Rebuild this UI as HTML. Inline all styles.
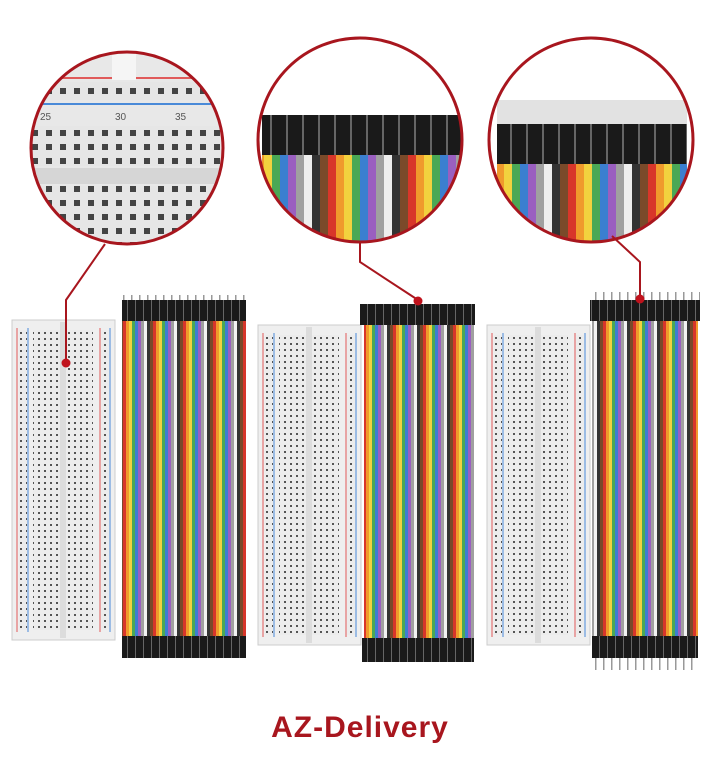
<!DOCTYPE html>
<html><head><meta charset="utf-8"><style>
html,body{margin:0;padding:0;background:#fff;width:720px;height:768px;overflow:hidden}
</style></head><body>
<svg width="720" height="768" viewBox="0 0 720 768" xmlns="http://www.w3.org/2000/svg">
<defs>
  <pattern id="rain" width="30" height="10" patternUnits="userSpaceOnUse">
    <rect x="0" width="3" height="10" fill="#7a4a2a"/>
    <rect x="3" width="3" height="10" fill="#d8362a"/>
    <rect x="6" width="3" height="10" fill="#f09a2c"/>
    <rect x="9" width="3" height="10" fill="#f2d23e"/>
    <rect x="12" width="3" height="10" fill="#4aa855"/>
    <rect x="15" width="3" height="10" fill="#3b7fd0"/>
    <rect x="18" width="3" height="10" fill="#9a5fc0"/>
    <rect x="21" width="3" height="10" fill="#a0a0a0"/>
    <rect x="24" width="3" height="10" fill="#f2f2f2"/>
    <rect x="27" width="3" height="10" fill="#333"/>
  </pattern>
  <pattern id="rainBig" width="80" height="10" patternUnits="userSpaceOnUse">
    <rect x="0" width="8" height="10" fill="#7a4a2a"/>
    <rect x="8" width="8" height="10" fill="#d8362a"/>
    <rect x="16" width="8" height="10" fill="#f09a2c"/>
    <rect x="24" width="8" height="10" fill="#f2d23e"/>
    <rect x="32" width="8" height="10" fill="#4aa855"/>
    <rect x="40" width="8" height="10" fill="#3b7fd0"/>
    <rect x="48" width="8" height="10" fill="#9a5fc0"/>
    <rect x="56" width="8" height="10" fill="#a0a0a0"/>
    <rect x="64" width="8" height="10" fill="#eee"/>
    <rect x="72" width="8" height="10" fill="#333"/>
  </pattern>
  <pattern id="holes" width="6" height="6" patternUnits="userSpaceOnUse">
    <rect width="6" height="6" fill="#ececec"/>
    <rect x="2" y="2" width="2" height="2" fill="#555"/>
  </pattern>
  <pattern id="holesBig" width="14" height="14" patternUnits="userSpaceOnUse">
    <rect width="14" height="14" fill="#e6e6e6"/>
    <rect x="4" y="4" width="6" height="6" fill="#444"/>
  </pattern>
  <pattern id="hdr" width="8" height="10" patternUnits="userSpaceOnUse">
    <rect width="7" height="10" fill="#1a1a1a"/>
    <rect x="7" width="1" height="10" fill="#666"/>
  </pattern>
  <pattern id="pins" width="8" height="10" patternUnits="userSpaceOnUse">
    <rect x="3" width="1.5" height="10" fill="#999"/>
  </pattern>
  <pattern id="hdrBig" width="16" height="10" patternUnits="userSpaceOnUse">
    <rect width="14" height="10" fill="#1a1a1a"/>
    <rect x="14" width="2" height="10" fill="#666"/>
  </pattern>
  <clipPath id="c1"><circle cx="127" cy="148" r="96"/></clipPath>
  <clipPath id="c2"><circle cx="360" cy="140" r="102"/></clipPath>
  <clipPath id="c3"><circle cx="591" cy="140" r="102"/></clipPath>
</defs>

<g>
  <g id="bb">
    <rect x="12" y="320" width="103" height="320" fill="#efefef" stroke="#ccc"/>
    <line x1="17" y1="328" x2="17" y2="632" stroke="#e05a5a" stroke-width="1"/>
    <line x1="28" y1="328" x2="28" y2="632" stroke="#4a8ad8" stroke-width="1"/>
    <line x1="100" y1="328" x2="100" y2="632" stroke="#e05a5a" stroke-width="1"/>
    <line x1="110" y1="328" x2="110" y2="632" stroke="#4a8ad8" stroke-width="1"/>
    <rect x="19" y="330" width="8" height="300" fill="url(#holes)"/>
    <rect x="101" y="330" width="8" height="300" fill="url(#holes)"/>
    <rect x="33" y="330" width="27" height="300" fill="url(#holes)"/>
    <rect x="66" y="330" width="27" height="300" fill="url(#holes)"/>
    <rect x="60" y="322" width="6" height="316" fill="#dcdcdc"/>
  </g>
  <use href="#bb" x="246" y="5"/>
  <use href="#bb" x="475" y="5"/>
</g>

<!-- wires 1 -->
<rect x="122" y="318" width="124" height="322" fill="url(#rain)"/>
<rect x="122" y="295" width="124" height="8" fill="url(#pins)"/>
<rect x="122" y="300" width="124" height="21" fill="url(#hdr)"/>
<rect x="122" y="636" width="124" height="22" fill="url(#hdr)"/>
<!-- wires 2 -->
<rect x="364" y="322" width="110" height="320" fill="url(#rain)"/>
<rect x="360" y="304" width="115" height="21" fill="url(#hdr)"/>
<rect x="362" y="638" width="112" height="24" fill="url(#hdr)"/>
<!-- wires 3 -->
<rect x="592" y="318" width="106" height="322" fill="url(#rain)"/>
<rect x="590" y="292" width="110" height="10" fill="url(#pins)"/>
<rect x="590" y="300" width="110" height="21" fill="url(#hdr)"/>
<rect x="592" y="636" width="106" height="22" fill="url(#hdr)"/>
<rect x="594" y="658" width="102" height="12" fill="url(#pins)"/>

<!-- circle 1 -->
<g clip-path="url(#c1)">
  <rect x="30" y="50" width="200" height="200" fill="#e8e8e8"/>
  <line x1="30" y1="78" x2="230" y2="78" stroke="#e05a5a" stroke-width="2"/>
  <line x1="30" y1="104" x2="230" y2="104" stroke="#4a8ad8" stroke-width="2"/>
  <rect x="30" y="82" width="200" height="18" fill="url(#holesBig)"/>
  <text x="40" y="120" font-family="Liberation Sans, sans-serif" font-size="10" fill="#555">25</text>
  <text x="115" y="120" font-family="Liberation Sans, sans-serif" font-size="10" fill="#555">30</text>
  <text x="175" y="120" font-family="Liberation Sans, sans-serif" font-size="10" fill="#555">35</text>
  <rect x="30" y="126" width="200" height="40" fill="url(#holesBig)"/>
  <rect x="30" y="168" width="200" height="16" fill="#d6d6d6"/>
  <rect x="30" y="186" width="200" height="64" fill="url(#holesBig)"/>
  <rect x="112" y="50" width="24" height="30" fill="#f5f5f5"/>
</g>
<circle cx="127" cy="148" r="96" fill="none" stroke="#a8161e" stroke-width="3"/>

<!-- circle 2 -->
<g clip-path="url(#c2)">
  <rect x="255" y="35" width="210" height="210" fill="#fff"/>
  <rect x="262" y="150" width="200" height="100" fill="url(#rainBig)"/>
  <rect x="262" y="115" width="200" height="40" fill="url(#hdrBig)"/>
</g>
<circle cx="360" cy="140" r="102" fill="none" stroke="#a8161e" stroke-width="3"/>

<!-- circle 3 -->
<g clip-path="url(#c3)">
  <rect x="487" y="35" width="210" height="210" fill="#fff"/>
  <rect x="497" y="100" width="190" height="30" fill="#cfcfcf" opacity="0.6"/>
  <rect x="497" y="160" width="190" height="90" fill="url(#rainBig)"/>
  <rect x="497" y="124" width="190" height="40" fill="url(#hdrBig)"/>
</g>
<circle cx="591" cy="140" r="102" fill="none" stroke="#a8161e" stroke-width="3"/>

<g stroke="#a8161e" stroke-width="2" fill="none">
  <polyline points="105,244 66,300 66,362"/>
  <polyline points="360,242 360,262 418,300"/>
  <polyline points="612,236 640,262 640,298"/>
</g>
<g fill="#c0121c">
  <circle cx="66" cy="363" r="4.5"/>
  <circle cx="418" cy="301" r="4.5"/>
  <circle cx="640" cy="299" r="4.5"/>
</g>

<text x="360" y="737" text-anchor="middle" font-family="Liberation Sans, sans-serif" font-size="30" fill="#a8161e" letter-spacing="1" font-weight="bold">AZ-Delivery</text>
</svg>
</body></html>
